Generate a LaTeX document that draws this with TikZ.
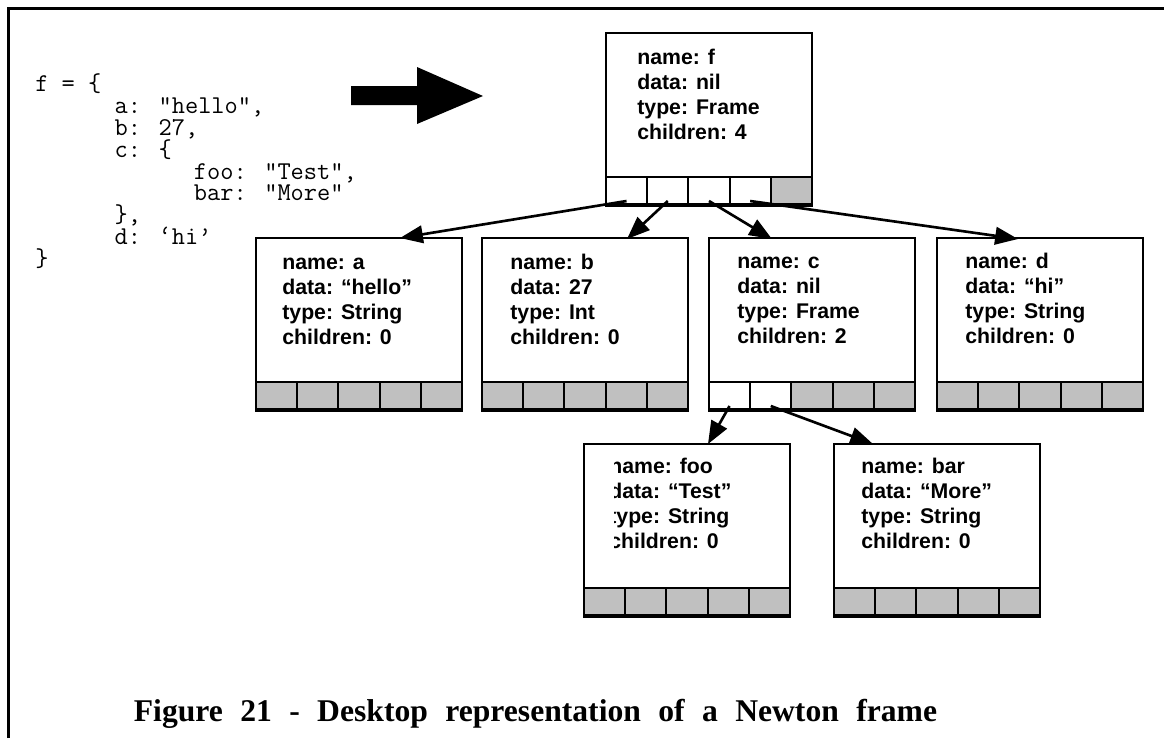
\documentclass[tikz,border=0pt]{standalone}
\usepackage{fontspec}
\setmainfont{Liberation Serif}
\newfontfamily\boxfont{Liberation Sans}
\usetikzlibrary{arrows.meta,calc}
\definecolor{slotgrey}{RGB}{192,192,192}
\newcommand{\topstrut}{\rule{0pt}{9pt}}
\tikzset{
  obj/.style={draw, line width=1.1pt, minimum width=4.12cm, minimum height=3.46cm,
    anchor=north west, inner sep=0},
  freeslot/.style={draw, line width=1.1pt, minimum width=0.824cm, minimum height=0.54cm,
    anchor=south west, inner sep=0},
  usedslot/.style={freeslot, fill=slotgrey},
  info/.style={anchor=north west, align=left, inner sep=0,
    font=\boxfont\bfseries\fontsize{12.1}{14.2}\selectfont},
  code/.style={anchor=north west, align=left, inner sep=0,
    font=\ttfamily\fontsize{14.6}{12.5}\selectfont},
  link/.style={line width=1.5pt, -{Triangle[length=13pt,width=10pt]}},
}
\begin{document}
\begin{tikzpicture}[x=0.02cm,y=-0.02cm]
\useasboundingbox (0,0) rectangle (1164,738);
\draw[line width=1.7pt] (8.5,738) -- (8.5,8.5) -- (1164,8.5);

% source text and big arrow
\node[code] (source) at (35,73) {f = \{\\
\hphantom{aaaaaa}a: “hello”,\\
\hphantom{aaaaaa}b: 27,\\
\hphantom{aaaaaa}c: \{\\
\hphantom{aaaaaaaaaaaa}foo: “Test”,\\
\hphantom{aaaaaaaaaaaa}bar: “More”\\
\hphantom{aaaaaa}\},\\
\hphantom{aaaaaa}d: ‘hi’\\
\}};
\fill (351,86) -- (417,86) -- (417,67) -- (483,96) -- (417,124) -- (417,105) -- (351,105) -- cycle;

% frame f
\node[obj] (f) at (605,32) {};
\node[info] (f-text) at (637,48.5) {\topstrut name: f\\data: nil\\type: Frame\\children: 4};
\foreach \i/\s in {1/freeslot,2/freeslot,3/freeslot,4/freeslot,5/usedslot}
  \node[\s] (f\i) at ({605+(\i-1)*41.2},205) {};

% children of f
\node[obj] (a) at (255,237) {};
\node[info] (a-text) at (282,253.5) {\topstrut name: a\\data: “hello”\\type: String\\children: 0};
\foreach \i in {1,...,5}
  \node[usedslot] (a\i) at ({255+(\i-1)*41.2},410) {};

\node[obj] (b) at (481,237) {};
\node[info] (b-text) at (510,253) {\topstrut name: b\\data: 27\\type: Int\\children: 0};
\foreach \i in {1,...,5}
  \node[usedslot] (b\i) at ({481+(\i-1)*41.2},410) {};

\node[obj] (c) at (708,237) {};
\node[info] (c-text) at (737,252.5) {\topstrut name: c\\data: nil\\type: Frame\\children: 2};
\foreach \i/\s in {1/freeslot,2/freeslot,3/usedslot,4/usedslot,5/usedslot}
  \node[\s] (c\i) at ({708+(\i-1)*41.2},410) {};

\node[obj] (d) at (936,237) {};
\node[info] (d-text) at (965,252.5) {\topstrut name: d\\data: “hi”\\type: String\\children: 0};
\foreach \i in {1,...,5}
  \node[usedslot] (d\i) at ({936+(\i-1)*41.2},410) {};

% children of c
\node[obj] (foo) at (583,443) {};
\begin{scope}
\clip (614,443) rectangle (789,616);
\node[info] (foo-text) at (609,457) {\topstrut name: foo\\data: “Test”\\type: String\\children: 0};
\end{scope}
\foreach \i in {1,...,5}
  \node[usedslot] (foo\i) at ({583+(\i-1)*41.2},616) {};

\node[obj] (bar) at (833,443) {};
\node[info] (bar-text) at (861,457) {\topstrut name: bar\\data: “More”\\type: String\\children: 0};
\foreach \i in {1,...,5}
  \node[usedslot] (bar\i) at ({833+(\i-1)*41.2},616) {};

% links
\draw[link] ($(f1.south)+(0,-4)$) -- ($(a.north west)+(145,1)$);
\draw[link] ($(f2.south)+(0,-4)$) -- ($(b.north west)+(146,2)$);
\draw[link] ($(f3.south)+(0,-4)$) -- ($(c.north west)+(64,2)$);
\draw[link] ($(f4.south)+(0,-4)$) -- ($(d.north west)+(82,2)$);
\draw[link] ($(c1.south)+(0,-4)$) -- ($(foo.north west)+(125,1)$);
\draw[link] ($(c2.south)+(0,-4)$) -- ($(bar.north west)+(40,1)$);

\node[anchor=base, font=\bfseries\fontsize{18}{20}\selectfont] (caption) at (535.5,721)
  {\spaceskip=0.55em Figure 21 - Desktop representation of a Newton frame};
\end{tikzpicture}
\end{document}
